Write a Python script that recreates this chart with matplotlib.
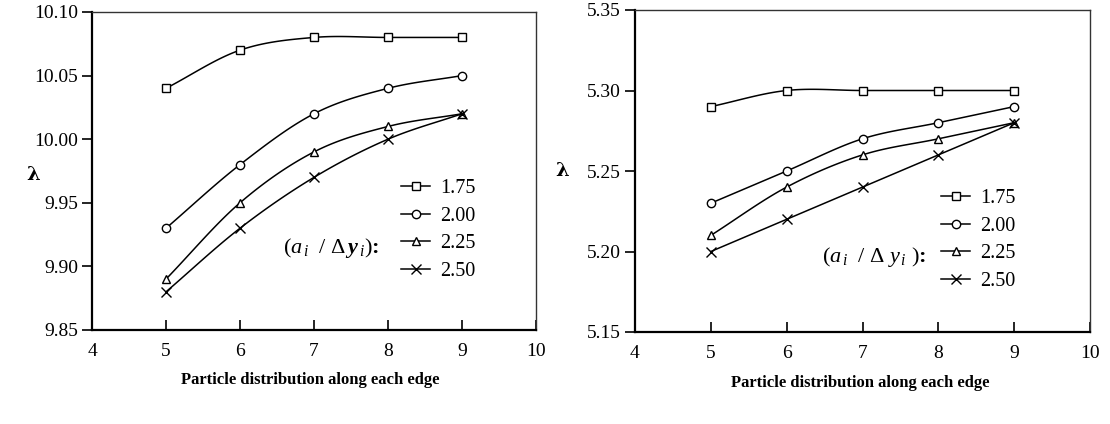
import numpy as np
import matplotlib
matplotlib.use('Agg')
import matplotlib.pyplot as plt

plt.rcParams['font.family'] = ['Liberation Serif', 'DejaVu Serif']
plt.rcParams['mathtext.fontset'] = 'custom'
plt.rcParams['mathtext.rm'] = 'Liberation Serif'
plt.rcParams['mathtext.it'] = 'Liberation Serif:italic'
plt.rcParams['mathtext.bf'] = 'Liberation Serif:bold'
plt.rcParams['mathtext.bfit'] = 'Liberation Serif:italic:bold'

# ---------- data ----------
particles = [5, 6, 7, 8, 9]
ratios = ['1.75', '2.00', '2.25', '2.50']
markers = ['s', 'o', '^', 'x']

left_175 = [10.04, 10.07, 10.08, 10.08, 10.08]
left_200 = [9.93, 9.98, 10.02, 10.04, 10.05]
left_225 = [9.89, 9.95, 9.99, 10.01, 10.02]
left_250 = [9.88, 9.93, 9.97, 10.00, 10.02]

right_175 = [5.29, 5.30, 5.30, 5.30, 5.30]
right_200 = [5.23, 5.25, 5.27, 5.28, 5.29]
right_225 = [5.21, 5.24, 5.26, 5.27, 5.28]
right_250 = [5.20, 5.22, 5.24, 5.26, 5.28]

left_ticks = [9.85, 9.90, 9.95, 10.00, 10.05, 10.10]
right_ticks = [5.15, 5.20, 5.25, 5.30, 5.35]


def smooth(x, y, n=30):
    # catmull-rom style smoothing, like excel's smoothed line
    x = np.asarray(x, float); y = np.asarray(y, float)
    px = np.concatenate([[2*x[0]-x[1]], x, [2*x[-1]-x[-2]]])
    py = np.concatenate([[2*y[0]-y[1]], y, [2*y[-1]-y[-2]]])
    xs, ys = [], []
    t = np.linspace(0, 1, n)
    for i in range(1, len(px)-2):
        for p, out in ((px, xs), (py, ys)):
            p0, p1, p2, p3 = p[i-1], p[i], p[i+1], p[i+2]
            out.extend(0.5*((2*p1) + (-p0+p2)*t + (2*p0-5*p1+4*p2-p3)*t**2
                            + (-p0+3*p1-3*p2+p3)*t**3))
    return xs, ys


def mk(m):
    return dict(marker=m, ms=6 if m != 'x' else 7, mfc='white', mec='black', mew=1.0)


def draw_panel(ax, series, yticks):
    for vals, m, lab in zip(series, markers, ratios):
        sx, sy = smooth(particles, vals)
        ax.plot(sx, sy, color='black', lw=1.1)
        ax.plot(particles, vals, linestyle='none', **mk(m))
        ax.plot([], [], color='black', lw=1.1, label=lab, **mk(m))
    ax.set_xlim(4, 10)
    ax.set_ylim(yticks[0], yticks[-1])
    ax.set_xticks(range(4, 11))
    ax.set_yticks(yticks)
    ax.yaxis.set_major_formatter(matplotlib.ticker.FormatStrFormatter('%.2f'))
    ax.tick_params(axis='y', direction='out', length=7, width=1.2, labelsize=14, pad=3)
    ax.tick_params(axis='x', direction='in', length=7, width=1.2, labelsize=14, pad=9)
    for s in ['left', 'bottom']:
        ax.spines[s].set_linewidth(1.6)
    for s in ['top', 'right']:
        ax.spines[s].set_linewidth(1.0)
        ax.spines[s].set_color('#333333')


fig = plt.figure(figsize=(11.1, 4.24), dpi=100)
ax1 = fig.add_axes([92/1110, 94/424, 444/1110, 318/424])
ax2 = fig.add_axes([635/1110, 92/424, 455/1110, 322/424])

draw_panel(ax1, [left_175, left_200, left_225, left_250], left_ticks)
draw_panel(ax2, [right_175, right_200, right_225, right_250], right_ticks)

leg_kw = dict(frameon=False, fontsize=14.5, handlelength=1.45, handletextpad=0.5,
              labelspacing=0.42, borderpad=0, borderaxespad=0)
ax1.legend(loc='upper left', bbox_to_anchor=(401/1110, (424-179)/424),
           bbox_transform=fig.transFigure, **leg_kw)
ax2.legend(loc='upper left', bbox_to_anchor=(941/1110, (424-189)/424),
           bbox_transform=fig.transFigure, **leg_kw)

fig.text(283/1110, 1-248/424, r'$(a_{\,i}\ \ /\ \Delta\,\mathbfit{y}_{\,i})$:', fontsize=16,
         ha='left', va='center', fontweight='bold')
fig.text(822/1110, 1-257/424, r'$(a_{\,i}\ \ /\ \Delta\ y_{\,i}\ )$:', fontsize=16,
         ha='left', va='center', fontweight='bold')

fig.text(310/1110, 1-380/424, 'Particle distribution along each edge', fontsize=12,
         fontweight='bold', ha='center', va='center')
fig.text(860/1110, 1-383/424, 'Particle distribution along each edge', fontsize=12,
         fontweight='bold', ha='center', va='center')
fig.text(33/1110, 1-175/424, 'λ', fontsize=14, fontweight='bold', ha='center', va='center',
         family=['DejaVu Serif'])
fig.text(562/1110, 1-171/424, 'λ', fontsize=14, fontweight='bold', ha='center', va='center',
         family=['DejaVu Serif'])

fig.savefig('out.png', dpi=100)
